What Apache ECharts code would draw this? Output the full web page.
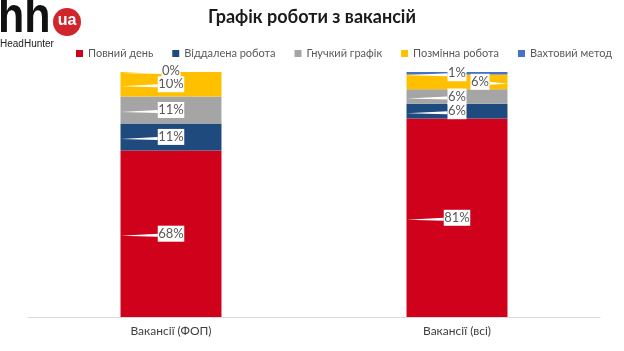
<!DOCTYPE html>
<html>
<head>
<meta charset="utf-8">
<script src="https://cdn.jsdelivr.net/npm/echarts@6/dist/echarts.min.js"></script>
<style>
html,body{margin:0;padding:0;background:#fff;}
#chart{width:624px;height:351px;}
</style>
</head>
<body>
<div id="chart"></div>
<script>
const categories = ['Вакансії (ФОП)', 'Вакансії (всі)'];
const seriesNames = ['Повний день', 'Віддалена робота', 'Гнучкий графік', 'Позмінна робота', 'Вахтовий метод'];
const fullDay = [68, 81];
const remote = [11, 6];
const flexible = [11, 6];
const shifts = [10, 6];
const rotation = [0, 1];
const labelTexts = [['68%', '81%'], ['11%', '6%'], ['11%', '6%'], ['10%', '6%'], ['0%', '1%']];

const values = [fullDay, remote, flexible, shifts, rotation];
const colors = ['#D0021B', '#1F4A7E', '#A5A5A5', '#FFC000', '#4472C4'];
// label nudges (px) [seriesIdx][catIdx]; a positive dx points the callout at the right bar edge
const labelDx = [[0, 0], [0, 0], [0, 0], [0, 23], [0, 0]];
const labelDy = [[0, 0], [0, 0], [0, 0], [0, 0], [-1, 0]];
const BAR_RATIO = 0.353;
const FONT = 'Lato, "Open Sans", sans-serif';

const chart = echarts.init(document.getElementById('chart'), null, {renderer: 'canvas'});

const barSeries = seriesNames.map((name, i) => ({
  name: name,
  type: 'bar',
  stack: 'total',
  barWidth: (BAR_RATIO * 100) + '%',
  itemStyle: {color: colors[i]},
  data: values[i],
  z: 2
}));

const labelData = [];
for (let s = 0; s < values.length; s++) {
  for (let c = 0; c < categories.length; c++) {
    labelData.push([c, s]);
  }
}

const labelSeries = {
  type: 'custom',
  silent: true,
  z: 10,
  data: labelData,
  encode: {x: 0},
  renderItem: function (params, api) {
    const c = api.value(0);
    const s = api.value(1);
    let base = 0;
    for (let k = 0; k < s; k++) base += values[k][c];
    const v = values[s][c];
    const mid = api.coord([c, base + v / 2]);
    const band = api.size([1, 0])[0];
    const half = band * BAR_RATIO / 2;
    const dx = labelDx[s][c], dy = labelDy[s][c];
    const cx = mid[0] + dx, cy = mid[1] + dy;
    const text = labelTexts[s][c];
    const w = text.length * 7.5 + 4;
    const h = 16;
    const toRight = dx > 0;
    const edgeX = toRight ? mid[0] + half : mid[0] - half;
    const boxEdge = toRight ? cx + w / 2 : cx - w / 2;
    return {
      type: 'group',
      children: [
        {
          type: 'polygon',
          shape: {points: [[edgeX, cy + 2], [boxEdge, cy], [boxEdge, cy + 3]]},
          style: {fill: '#ffffff'}
        },
        {
          type: 'rect',
          shape: {x: cx - w / 2, y: cy - h / 2, width: w, height: h},
          style: {fill: '#ffffff'}
        },
        {
          type: 'text',
          x: cx, y: cy,
          style: {
            text: text, fill: '#595959', font: '13px ' + FONT,
            align: 'center', verticalAlign: 'middle'
          }
        }
      ]
    };
  }
};

const option = {
  backgroundColor: '#ffffff',
  animation: false,
  color: colors,
  title: {
    text: 'Графік роботи з вакансій',
    left: 'center',
    top: 3,
    textStyle: {fontFamily: FONT, fontSize: 18, fontWeight: 'bold', color: '#1a1a1a'}
  },
  legend: {
    data: seriesNames,
    left: 71,
    top: 43,
    width: 550,
    itemWidth: 7,
    itemHeight: 7,
    itemGap: 19,
    icon: 'rect',
    textStyle: {fontFamily: FONT, fontSize: 11, color: '#595959'}
  },
  grid: {left: 28, right: 24, top: 72, bottom: 34, containLabel: false},
  xAxis: {
    type: 'category',
    data: categories,
    axisLine: {lineStyle: {color: '#d9d9d9'}},
    axisTick: {show: false},
    axisLabel: {fontFamily: FONT, fontSize: 12, color: '#404040', margin: 8}
  },
  yAxis: {
    type: 'value',
    min: 0, max: 100,
    show: false,
    splitLine: {show: false}
  },
  graphic: [
    {
      type: 'text', left: -2, top: -7,
      scaleX: 0.86,
      style: {text: 'hh', font: 'bold 50px "Liberation Sans", sans-serif', fill: '#111111'}
    },
    {
      type: 'circle', shape: {cx: 67, cy: 22, r: 14},
      style: {fill: '#D0262B'}
    },
    {
      type: 'text', x: 67, y: 21,
      style: {text: 'ua', font: 'bold 16px "Liberation Sans", sans-serif', fill: '#ffffff', align: 'center', verticalAlign: 'middle'}
    },
    {
      type: 'text', left: 0, top: 39,
      style: {text: 'HeadHunter', font: '10px "Liberation Sans", sans-serif', fill: '#222222'}
    }
  ],
  series: barSeries.concat([labelSeries])
};
chart.setOption(option);
</script>
</body>
</html>
